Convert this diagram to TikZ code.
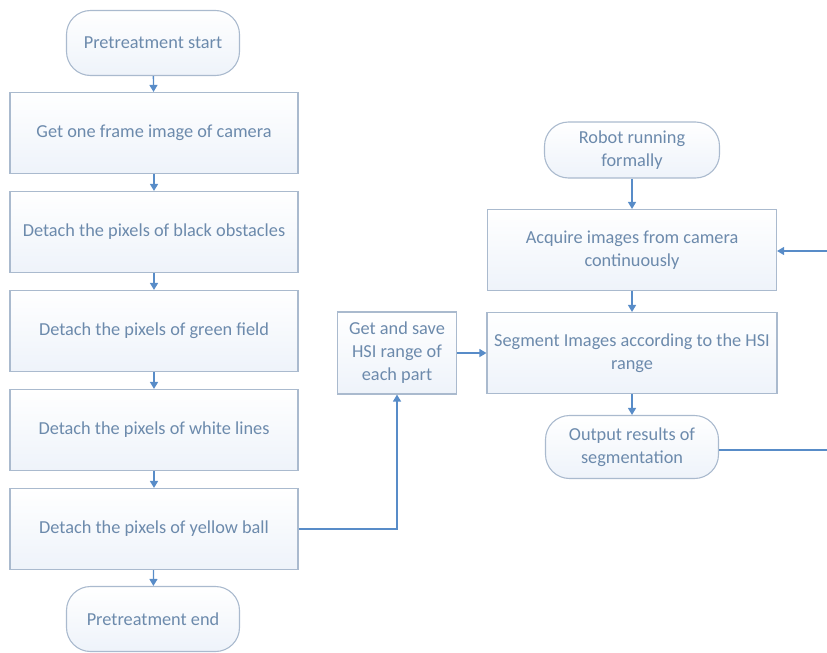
\documentclass[tikz,border=0pt]{standalone}
\usepackage{fontspec}
\setmainfont{Carlito}
\usetikzlibrary{arrows.meta}
\definecolor{txt}{RGB}{108,138,172}
\definecolor{bord}{RGB}{170,186,206}
\definecolor{arr}{RGB}{88,140,200}
\definecolor{fillb}{RGB}{238,243,250}
\begin{document}
\begin{tikzpicture}[x=1pt,y=-1pt,
  base/.style={draw=bord,line width=1.1pt,top color=white,bottom color=fillb,text=txt,
    font=\fontsize{18.3}{23}\selectfont,align=center,inner sep=0pt},
  procbox/.style={base,minimum width=288pt,minimum height=81pt},
  smallbox/.style={base,minimum width=119pt,minimum height=82pt},
  term/.style={base,rounded corners=24pt},
  conn/.style={draw=arr,line width=1.3pt,-{Triangle[length=7pt,width=8pt]}},
  line/.style={draw=arr,line width=1.3pt}
]
\useasboundingbox (0,0) rectangle (827,653);
% left column
\node[term,minimum width=173pt,minimum height=65pt] (ps) at (153,43) {Pretreatment start};
\node[procbox] (b1) at (154,133) {Get one frame image of camera};
\node[procbox] (b2) at (154,232) {Detach the pixels of black obstacles};
\node[procbox] (b3) at (154,331) {Detach the pixels of green field};
\node[procbox] (b4) at (154,430) {Detach the pixels of white lines};
\node[procbox] (b5) at (154,529) {Detach the pixels of yellow ball};
\node[term,minimum width=173pt,minimum height=65pt] (pe) at (153,619) {Pretreatment end};
% middle
\node[smallbox] (hsi) at (397,353) {Get and save\\HSI range of\\each part};
% right column
\node[term,minimum width=175pt,minimum height=56pt] (rs) at (632,150) {Robot running\\formally};
\node[procbox,minimum width=289pt] (acq) at (632,250) {Acquire images from camera\\continuously};
\node[procbox,minimum width=290pt] (seg) at (632,353) {Segment Images according to the HSI\\range};
\node[term,minimum width=173pt,minimum height=63pt] (out) at (632,447) {Output results of\\segmentation};
\coordinate (fbout) at (827,450);
\coordinate (fbin) at (827,251);
% connectors
\draw[conn] (ps) -- (b1);
\draw[conn] (b1) -- (b2);
\draw[conn] (b2) -- (b3);
\draw[conn] (b3) -- (b4);
\draw[conn] (b4) -- (b5);
\draw[conn] (b5) -- (pe);
\draw[conn] (b5.east) -| (hsi.south);
\draw[conn] (hsi.east) -- (seg.west);
\draw[conn] (rs) -- (acq);
\draw[conn] (acq) -- (seg);
\draw[conn] (seg) -- (out);
\draw[line] (out.east |- fbout) -- (fbout);
\draw[conn] (fbin) -- (acq.east |- fbin);
\end{tikzpicture}
\end{document}
